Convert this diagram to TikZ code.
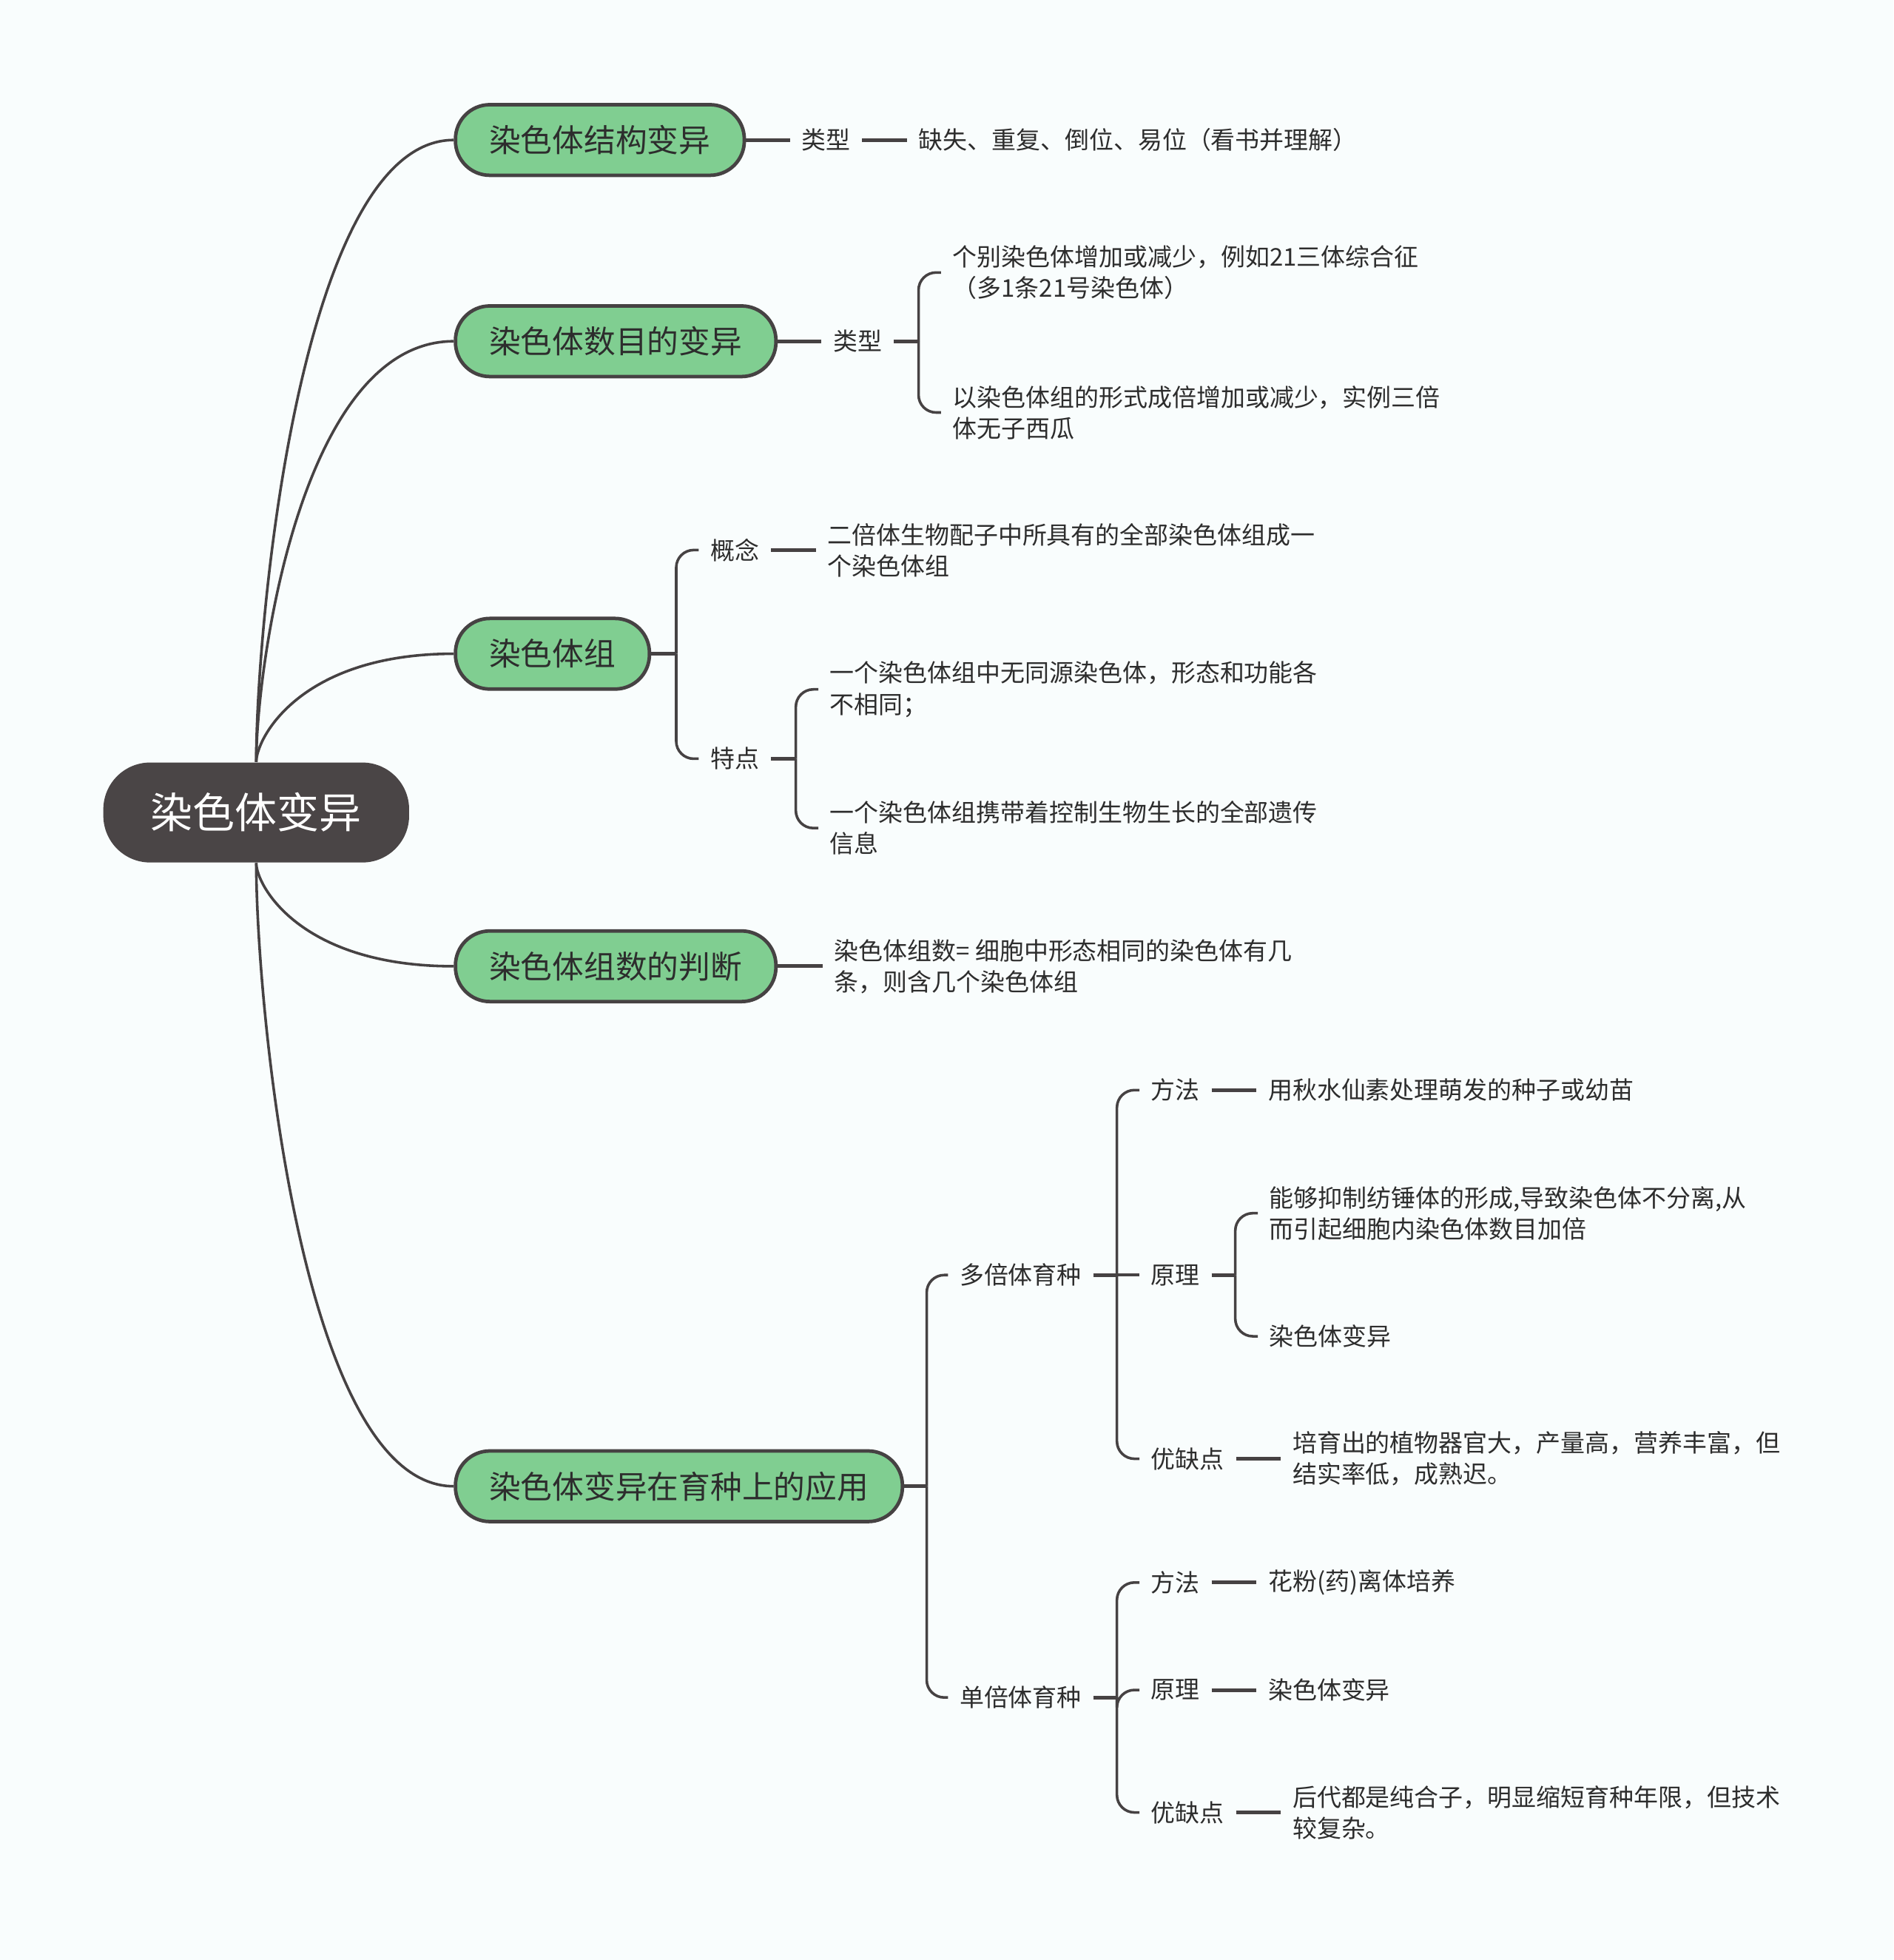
\documentclass[tikz,border=0pt]{standalone}
\usepackage{fontspec}
\setmainfont{Noto Sans CJK SC}
\usetikzlibrary{positioning, calc}
\definecolor{bg}{RGB}{249,253,253}
\definecolor{rootc}{RGB}{74,69,70}
\definecolor{leafgreen}{RGB}{128,206,145}
\definecolor{edge}{RGB}{70,66,67}
\definecolor{txt}{RGB}{45,45,45}

\begin{document}
\begin{tikzpicture}[
      x=0.02cm, y=-0.02cm,
      rootbox/.style={rectangle, rounded corners=0.75cm, fill=rootc, text=white,
                      minimum height=1.6cm, inner xsep=0.76cm,
                      font=\fontsize{19.2}{23}\selectfont},
      mainbox/.style={rectangle, rounded corners=0.55cm, fill=leafgreen, draw=edge,
                      line width=1.6pt, minimum height=1.13cm, inner xsep=0.54cm,
                      text=txt, font=\fontsize{14.4}{17}\selectfont},
      lbl/.style={inner xsep=0.18cm, inner ysep=0.08cm, align=left, text=txt,
                  font=\fontsize{11.1}{14.2}\selectfont},
      curve/.style={draw=edge, line width=1.2pt},
      link/.style={draw=edge, line width=1.7pt},
      brk/.style={draw=edge, line width=1.2pt, rounded corners=0.28cm}
    ]
    \fill[bg] (0,0) rectangle (1515,1568);
    \useasboundingbox (0,0) rectangle (1515,1568);

    % root and main branches
    \node[rootbox] (root) at (205,650) {染色体变异};
    \node[mainbox, anchor=west] (b1) at (363,112) {染色体结构变异};
    \node[mainbox, anchor=west] (b2) at (363,273) {染色体数目的变异};
    \node[mainbox, anchor=west] (b3) at (363,523) {染色体组};
    \node[mainbox, anchor=west] (b4) at (363,773) {染色体组数的判断};
    \node[mainbox, anchor=west] (b5) at (363,1189) {染色体变异在育种上的应用};
    \draw[curve] (root.north) .. controls +(0,-110) and +(-123,0) .. (b1.west);
    \draw[curve] (root.north) .. controls +(0,-74) and +(-123,0) .. (b2.west);
    \draw[curve] (root.north) .. controls +(0,-19) and +(-123,0) .. (b3.west);
    \draw[curve] (root.south) .. controls +(0,18) and +(-123,0) .. (b4.west);
    \draw[curve] (root.south) .. controls +(0,110) and +(-123,0) .. (b5.west);

    % structure
    \node[lbl, right=0.70cm of b1] (t1) {类型};
    \node[lbl, right=0.72cm of t1] (l1) {缺失、重复、倒位、易位（看书并理解）};
    \draw[link] (b1) -- (t1);
    \draw[link] (t1) -- (l1);

    % number
    \node[lbl, right=0.70cm of b2] (t2) {类型};
    \node[lbl, right=0.76cm of t2, yshift=1.1cm] (l21) {个别染色体增加或减少，例如21三体综合征\\（多1条21号染色体）};
    \node[lbl, right=0.76cm of t2, yshift=-1.14cm] (l22) {以染色体组的形式成倍增加或减少，实例三倍\\体无子西瓜};
    \draw[link] (b2) -- (t2);
    \draw[link] (t2.east) -- ++(20,0) coordinate (k2);
    \draw[brk] (k2) |- (l21.west);
    \draw[brk] (k2) |- (l22.west);

    % chromosome set
    \node[lbl, right=0.76cm of b3, yshift=1.66cm] (c31) {概念};
    \node[lbl, right=0.76cm of b3, yshift=-1.68cm] (c32) {特点};
    \node[lbl, right=0.72cm of c31] (l31) {二倍体生物配子中所具有的全部染色体组成一\\个染色体组};
    \node[lbl, right=0.76cm of c32, yshift=1.11cm] (l32a) {一个染色体组中无同源染色体，形态和功能各\\不相同；};
    \node[lbl, right=0.76cm of c32, yshift=-1.11cm] (l32b) {一个染色体组携带着控制生物生长的全部遗传\\信息};
    \draw[link] (b3.east) -- ++(20,0) coordinate (k3);
    \draw[brk] (k3) |- (c31.west);
    \draw[brk] (k3) |- (c32.west);
    \draw[link] (c31) -- (l31);
    \draw[link] (c32.east) -- ++(20,0) coordinate (k32);
    \draw[brk] (k32) |- (l32a.west);
    \draw[brk] (k32) |- (l32b.west);

    % judging the number
    \node[lbl, right=0.72cm of b4] (l4) {染色体组数= 细胞中形态相同的染色体有几\\条，则含几个染色体组};
    \draw[link] (b4) -- (l4);

    % breeding
    \node[lbl, right=0.70cm of b5, yshift=3.38cm] (c51) {多倍体育种};
    \node[lbl, right=0.70cm of b5, yshift=-3.38cm] (c52) {单倍体育种};
    \draw[link] (b5.east) -- ++(18,0) coordinate (k5);
    \draw[brk] (k5) |- (c51.west);
    \draw[brk] (k5) |- (c52.west);

    % polyploid breeding
    \node[lbl, right=0.74cm of c51, yshift=2.96cm] (d1) {方法};
    \node[lbl, right=0.74cm of c51] (d2) {原理};
    \node[lbl, right=0.74cm of c51, yshift=-2.94cm] (d3) {优缺点};
    \node[lbl, right=0.72cm of d1] (e1) {用秋水仙素处理萌发的种子或幼苗};
    \node[lbl, right=0.74cm of d2, yshift=0.99cm] (e2) {能够抑制纺锤体的形成,导致染色体不分离,从\\而引起细胞内染色体数目加倍};
    \node[lbl, right=0.74cm of d2, yshift=-0.98cm] (e3) {染色体变异};
    \node[lbl, right=0.72cm of d3] (e4) {培育出的植物器官大，产量高，营养丰富，但\\结实率低，成熟迟。};
    \draw[link] (c51.east) -- ++(19,0) coordinate (k51);
    \draw[brk] (k51) |- (d1.west);
    \draw[brk] (k51) -- (d2.west);
    \draw[brk] (k51) |- (d3.west);
    \draw[link] (d1) -- (e1);
    \draw[link] (d2.east) -- ++(19,0) coordinate (k52);
    \draw[brk] (k52) |- (e2.west);
    \draw[brk] (k52) |- (e3.west);
    \draw[link] (d3) -- (e4);

    % haploid breeding
    \node[lbl, right=0.74cm of c52, yshift=1.84cm] (g1) {方法};
    \node[lbl, right=0.74cm of c52, yshift=0.12cm] (g2) {原理};
    \node[lbl, right=0.74cm of c52, yshift=-1.84cm] (g3) {优缺点};
    \node[lbl, right=0.72cm of g1] (h1) {花粉(药)离体培养};
    \node[lbl, right=0.72cm of g2] (h2) {染色体变异};
    \node[lbl, right=0.72cm of g3] (h3) {后代都是纯合子，明显缩短育种年限，但技术\\较复杂。};
    \draw[link] (c52.east) -- ++(19,0) coordinate (k6);
    \draw[brk] (k6) |- (g1.west);
    \draw[brk] (k6) |- (g2.west);
    \draw[brk] (k6) |- (g3.west);
    \draw[link] (g1) -- (h1);
    \draw[link] (g2) -- (h2);
    \draw[link] (g3) -- (h3);
  \end{tikzpicture}
\end{document}
